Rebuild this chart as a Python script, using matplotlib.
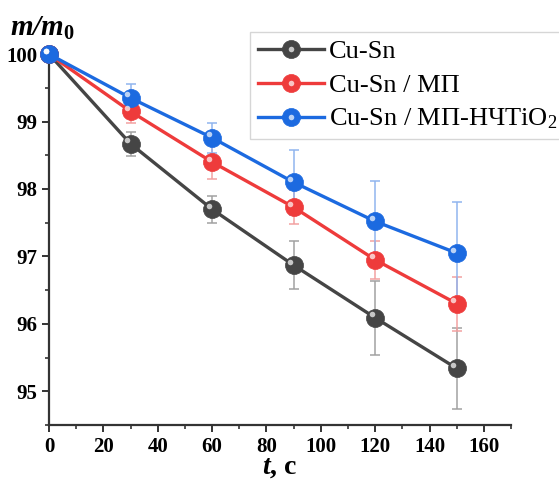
import matplotlib
matplotlib.use("Agg")
import matplotlib.pyplot as plt
import matplotlib.transforms as mtransforms
from matplotlib.ticker import MultipleLocator
from matplotlib.legend_handler import HandlerTuple

plt.rcParams['font.family'] = ['Liberation Serif', 'DejaVu Serif']
plt.rcParams['mathtext.fontset'] = 'custom'
plt.rcParams['mathtext.rm'] = 'Liberation Serif'
plt.rcParams['mathtext.bf'] = 'Liberation Serif:bold'
plt.rcParams['mathtext.it'] = 'Liberation Serif:italic'
plt.rcParams['mathtext.bfit'] = 'Liberation Serif:italic:bold'

# data
t = [0, 30, 60, 90, 120, 150]
cusn = [100, 98.67, 97.70, 96.87, 96.09, 95.34]
cusn_err = [0, 0.18, 0.20, 0.36, 0.55, 0.60]
cusn_mp = [100, 99.15, 98.40, 97.73, 96.95, 96.30]
cusn_mp_err = [0, 0.17, 0.25, 0.25, 0.28, 0.40]
cusn_tio2 = [100, 99.35, 98.76, 98.10, 97.52, 97.05]
cusn_tio2_err = [0, 0.20, 0.22, 0.48, 0.60, 0.76]

labels = ["Cu-Sn", "Cu-Sn / МП", "Cu-Sn / МП-НЧTiO$_2$"]
colors = ["#454545", "#ee3b3b", "#1c6ae0"]
err_colors = ["#a0a0a0", "#f2a0a0", "#8fb4ee"]

fig = plt.figure(figsize=(5.59, 4.79), dpi=100)
ax = fig.add_axes([0.0877, 0.1127, 0.8265, 0.7743])

series = [(cusn, cusn_err), (cusn_mp, cusn_mp_err), (cusn_tio2, cusn_tio2_err)]
shift = mtransforms.ScaledTranslation(-2.5 / 72, 2.5 / 72, fig.dpi_scale_trans)

handles = []
for (vals, err), lab, c, ec in zip(series, labels, colors, err_colors):
    ax.errorbar(t, vals, yerr=err, fmt='none', ecolor=ec, elinewidth=1.2,
                capsize=3.5, capthick=1.2, alpha=0.9, zorder=2, clip_on=False)
    ln, = ax.plot(t, vals, '-o', color=c, lw=2.4, ms=13, mec=c, mew=0.5,
                  zorder=3, clip_on=False, label=lab)
    hl, = ax.plot(t, vals, 'o', color='white', ms=4, mew=0, alpha=0.7,
                  zorder=4, clip_on=False, transform=ax.transData + shift)
    handles.append((ln, hl))

ax.set_xlim(0, 170)
ax.set_ylim(94.5, 100)
ax.xaxis.set_major_locator(MultipleLocator(20))
ax.xaxis.set_minor_locator(MultipleLocator(10))
ax.yaxis.set_major_locator(MultipleLocator(1))
ax.yaxis.set_minor_locator(MultipleLocator(0.5))

for s in ['top', 'right']:
    ax.spines[s].set_visible(False)
for s in ['left', 'bottom']:
    ax.spines[s].set_linewidth(1.6)
    ax.spines[s].set_color('#333333')

ax.tick_params(which='major', direction='out', length=5, width=1.4, color='#333333',
               labelsize=15)
ax.tick_params(which='minor', direction='out', length=3, width=1.2, color='#333333')
for lbl in ax.get_xticklabels() + ax.get_yticklabels():
    lbl.set_fontweight('bold')

ax.set_xlabel(r'$\mathbfit{t}$, c', fontsize=20, fontweight='bold', labelpad=-1)
fig.text(0.018, 0.925, r'$\mathbfit{m/m}_\mathbf{0}$', fontsize=21)

leg = ax.legend(handles, labels, handler_map={tuple: HandlerTuple(ndivide=1)},
                loc='upper left', bbox_to_anchor=(0.435, 1.06), fontsize=19,
                frameon=True, fancybox=False, edgecolor='#cccccc',
                handlelength=2.5, borderpad=0.3, labelspacing=0.38,
                handletextpad=0.2, borderaxespad=0)
leg.get_frame().set_linewidth(1.0)

fig.savefig("out.png", dpi=100)
